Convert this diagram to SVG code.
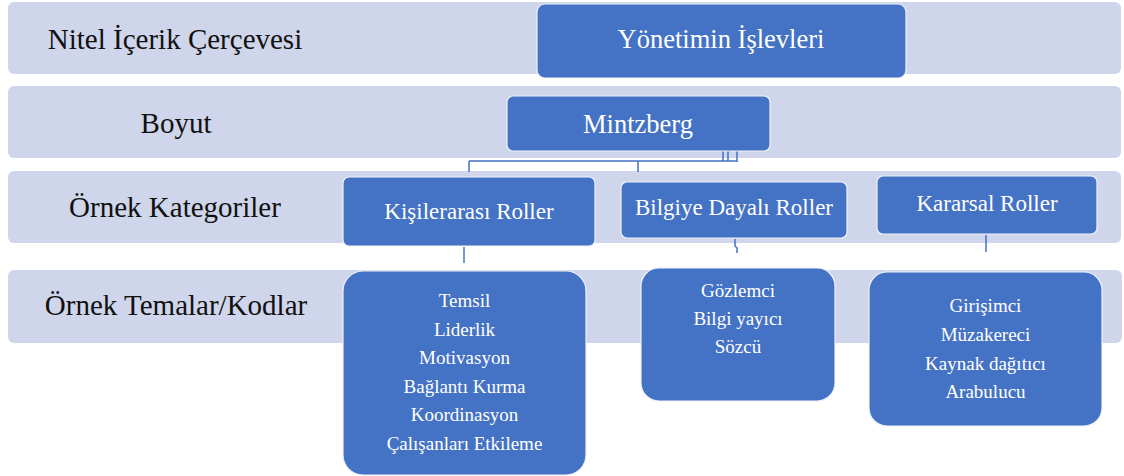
<svg xmlns="http://www.w3.org/2000/svg" width="1124" height="476" viewBox="0 0 1124 476">
<style>
.band{fill:#CFD5EA;}
.box{fill:#4472C4;stroke:#EEF2FA;stroke-width:1.2;}
text{font-family:'Liberation Serif','Tinos','Times New Roman','DejaVu Serif',serif;}
.lbl{font-size:29px;fill:#111;text-anchor:middle;}
.t1{font-size:26.5px;fill:#fff;text-anchor:middle;}
.t2{font-size:23px;fill:#fff;text-anchor:middle;}
.t3{font-size:19px;fill:#fff;text-anchor:middle;}
.con{fill:none;stroke:#4472C4;stroke-width:1.5;}
</style>
<rect width="1124" height="476" fill="#fff"/>
<g id="bands">
<g id="band1"><rect class="band" x="8" y="2" width="1113" height="72" rx="6"/><text class="lbl" x="175" y="49">Nitel İçerik Çerçevesi</text></g>
<g id="band2"><rect class="band" x="8" y="86" width="1113" height="72" rx="6"/><text class="lbl" x="176" y="133">Boyut</text></g>
<g id="band3"><rect class="band" x="8" y="171" width="1113" height="72" rx="6"/><text class="lbl" x="175" y="217">Örnek Kategoriler</text></g>
<g id="band4"><rect class="band" x="8" y="270" width="1114" height="73" rx="6"/><text class="lbl" x="176" y="315">Örnek Temalar/Kodlar</text></g>
</g>
<g id="connectors">
<path class="con" d="M723 151V161M728 151V161M737 151V162M469 161H737M469 161V172M638 161V172"/>
<path class="con" d="M464 247V263"/>
<path class="con" d="M735 239V246L737 248V253"/>
<path class="con" d="M986 235V252"/>
</g>
<g id="n-yonetim"><rect class="box" x="537" y="4" width="369" height="74" rx="8"/><text class="t1" x="721" y="48">Yönetimin İşlevleri</text></g>
<g id="n-mintzberg"><rect class="box" x="507" y="96" width="263" height="55" rx="6"/><text class="t1" x="638" y="133">Mintzberg</text></g>
<g id="n-kisilerarasi"><rect class="box" x="343" y="177" width="252" height="69" rx="6"/><text class="t2" x="469" y="219">Kişilerarası Roller</text></g>
<g id="n-bilgiye"><rect class="box" x="621" y="182" width="226" height="56" rx="6"/><text class="t2" x="734" y="215">Bilgiye Dayalı Roller</text></g>
<g id="n-kararsal"><rect class="box" x="877" y="176" width="220" height="58" rx="6"/><text class="t2" x="987" y="211">Kararsal Roller</text></g>
<g id="n-kisi-temalar"><rect class="box" x="343" y="271" width="243" height="204" rx="20"/>
<text class="t3" x="464.5" y="307">Temsil</text>
<text class="t3" x="464.5" y="335.5">Liderlik</text>
<text class="t3" x="464.5" y="364">Motivasyon</text>
<text class="t3" x="464.5" y="392.5">Bağlantı Kurma</text>
<text class="t3" x="464.5" y="421">Koordinasyon</text>
<text class="t3" x="464.5" y="449.5">Çalışanları Etkileme</text></g>
<g id="n-bilgi-temalar"><rect class="box" x="641" y="268" width="194" height="133" rx="18"/>
<text class="t3" x="738" y="297">Gözlemci</text>
<text class="t3" x="738" y="325">Bilgi yayıcı</text>
<text class="t3" x="738" y="353">Sözcü</text></g>
<g id="n-karar-temalar"><rect class="box" x="869" y="272" width="233" height="154" rx="18"/>
<text class="t3" x="985.5" y="312">Girişimci</text>
<text class="t3" x="985.5" y="341">Müzakereci</text>
<text class="t3" x="985.5" y="370">Kaynak dağıtıcı</text>
<text class="t3" x="985.5" y="398">Arabulucu</text></g>
</svg>
